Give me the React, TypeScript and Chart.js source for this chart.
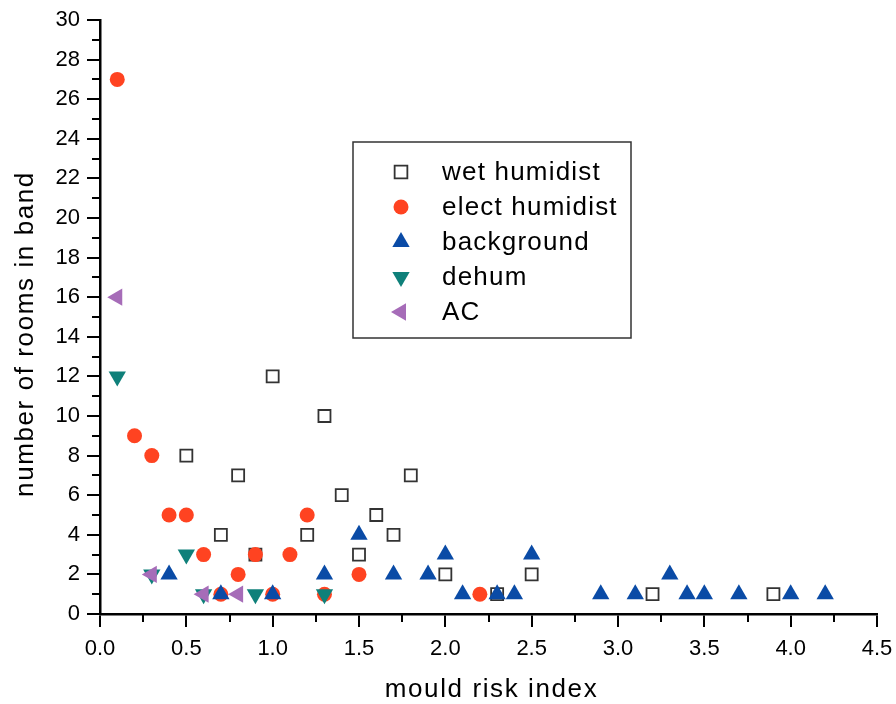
import React, { useEffect, useRef } from 'react';
import { Chart, registerables } from 'chart.js';
import { drawPoint } from 'chart.js/helpers';

Chart.register(...registerables);

// ---- data ----
const wetX = [0.5, 0.7, 0.8, 0.9, 1.0, 1.2, 1.3, 1.4, 1.5, 1.6, 1.7, 1.8, 2.0, 2.3, 2.5, 3.2, 3.9];
const wetY = [8, 4, 7, 3, 12, 4, 10, 6, 3, 5, 4, 7, 2, 1, 2, 1, 1];
const electX = [0.1, 0.2, 0.3, 0.4, 0.5, 0.6, 0.7, 0.8, 0.9, 1.0, 1.1, 1.2, 1.3, 1.5, 2.2];
const electY = [27, 9, 8, 5, 5, 3, 1, 2, 3, 1, 3, 5, 1, 2, 1];
const bgX = [0.4, 0.7, 1.0, 1.3, 1.5, 1.7, 1.9, 2.0, 2.1, 2.3, 2.4, 2.5, 2.9, 3.1, 3.3, 3.4, 3.5, 3.7, 4.0, 4.2];
const bgY = [2, 1, 1, 2, 4, 2, 2, 3, 1, 1, 1, 3, 1, 1, 2, 1, 1, 1, 1, 1];
const dehumX = [0.1, 0.3, 0.5, 0.6, 0.9, 1.3];
const dehumY = [12, 2, 3, 1, 1, 1];
const acX = [0.1, 0.3, 0.6, 0.8];
const acY = [16, 2, 1, 1];

const seriesNames = ['wet humidist', 'elect humidist', 'background', 'dehum', 'AC'];
const xTitle = 'mould risk index';
const yTitle = 'number of rooms in band';

const FONT = "'Liberation Sans', Arial, sans-serif";

const toPts = (xs: number[], ys: number[]) => xs.map((x, i) => ({ x, y: ys[i] }));

const minorTicks = {
  id: 'minorTicks',
  afterDraw(chart: any) {
    const ctx = chart.ctx;
    const xs = chart.scales.x;
    const ys = chart.scales.y;
    const area = chart.chartArea;
    ctx.save();
    ctx.strokeStyle = '#000';
    ctx.lineWidth = 2;
    ctx.beginPath();
    for (let v = 0.25; v < xs.max; v += 0.5) {
      const px = Math.round(xs.getPixelForValue(v));
      ctx.moveTo(px, area.bottom);
      ctx.lineTo(px, area.bottom + 8);
    }
    for (let v = 1; v < ys.max; v += 2) {
      const py = Math.round(ys.getPixelForValue(v));
      ctx.moveTo(area.left, py);
      ctx.lineTo(area.left - 8, py);
    }
    ctx.stroke();
    ctx.restore();
  },
};

const axisTitles = {
  id: 'axisTitles',
  afterDraw(chart: any) {
    const ctx = chart.ctx;
    const area = chart.chartArea;
    ctx.save();
    ctx.fillStyle = '#000';
    ctx.font = `26px ${FONT}`;
    (ctx as any).letterSpacing = '1.6px';
    ctx.textAlign = 'center';
    ctx.textBaseline = 'alphabetic';
    ctx.fillText(xTitle, (area.left + area.right) / 2 + 3, 697);
    ctx.translate(33, (area.top + area.bottom) / 2 + 17);
    ctx.rotate(-Math.PI / 2);
    ctx.fillText(yTitle, 0, 0);
    ctx.restore();
  },
};

const boxLegend = {
  id: 'boxLegend',
  afterDraw(chart: any) {
    const ctx = chart.ctx;
    const left = 353, top = 142, w = 278, h = 196;
    ctx.save();
    ctx.fillStyle = '#fff';
    ctx.fillRect(left, top, w, h);
    ctx.strokeStyle = '#333';
    ctx.lineWidth = 1.5;
    ctx.strokeRect(left, top, w, h);
    chart.data.datasets.forEach((ds: any, i: number) => {
      const base = top + 38 + i * 35;
      const cy = base - 8;
      const cx = left + 48;
      ctx.fillStyle = ds.backgroundColor;
      ctx.strokeStyle = ds.borderColor;
      ctx.lineWidth = ds.borderWidth;
      drawPoint(ctx, {
        pointStyle: ds.pointStyle,
        rotation: ds.rotation || 0,
        radius: ds.legendRadius,
        borderWidth: ds.borderWidth,
      } as any, cx, cy);
      ctx.fillStyle = '#000';
      ctx.font = `26px ${FONT}`;
      (ctx as any).letterSpacing = '1.2px';
      ctx.textBaseline = 'alphabetic';
      ctx.textAlign = 'left';
      ctx.fillText(ds.label, left + 89, base);
      (ctx as any).letterSpacing = '0px';
    });
    ctx.restore();
  },
};

export default function App() {
  const ref = useRef<HTMLCanvasElement>(null);
  useEffect(() => {
    if (!ref.current) return;
    const chart = new Chart(ref.current, {
      type: 'scatter',
      data: {
        datasets: [
          {
            label: seriesNames[0],
            data: toPts(wetX, wetY),
            pointStyle: 'rect',
            pointRadius: 8.5,
            backgroundColor: '#fff',
            borderColor: '#333',
            borderWidth: 1.8,
            order: 5,
            legendRadius: 9,
          } as any,
          {
            label: seriesNames[1],
            data: toPts(electX, electY),
            pointStyle: 'circle',
            pointRadius: 7.5,
            backgroundColor: '#FF4321',
            borderColor: '#FF4321',
            borderWidth: 0,
            order: 4,
            legendRadius: 7.5,
          } as any,
          {
            label: seriesNames[2],
            data: toPts(bgX, bgY),
            pointStyle: 'triangle',
            pointRadius: 10,
            backgroundColor: '#0A4BA6',
            borderColor: '#0A4BA6',
            borderWidth: 0,
            order: 3,
            legendRadius: 10,
          } as any,
          {
            label: seriesNames[3],
            data: toPts(dehumX, dehumY),
            pointStyle: 'triangle',
            rotation: 180,
            pointRotation: 180,
            pointRadius: 10,
            backgroundColor: '#0F807A',
            borderColor: '#0F807A',
            borderWidth: 0,
            order: 2,
            legendRadius: 10,
          } as any,
          {
            label: seriesNames[4],
            data: toPts(acX, acY),
            pointStyle: 'triangle',
            rotation: 270,
            pointRotation: 270,
            pointRadius: 10,
            backgroundColor: '#A66CB8',
            borderColor: '#A66CB8',
            borderWidth: 0,
            order: 1,
            legendRadius: 10,
          } as any,
        ],
      },
      options: {
        animation: false,
        responsive: false,
        layout: { padding: { left: 0, top: 20, right: 19, bottom: 0 } },
        clip: false as any,
        plugins: {
          legend: { display: false },
          tooltip: { enabled: false },
        },
        scales: {
          x: {
            type: 'linear',
            min: 0,
            max: 4.5,
            ticks: {
              stepSize: 0.5,
              color: '#000',
              font: { family: FONT, size: 22 },
              padding: 9,
              callback: (v: any) => Number(v).toFixed(1),
            },
            grid: {
              display: true,
              drawOnChartArea: false,
              drawTicks: true,
              tickLength: 13,
              lineWidth: 2,
              color: '#000',
            },
            border: { display: true, width: 2.5, color: '#000' },
            title: { display: false },
            afterFit: (s: any) => {
              s.height = 90;
              s.paddingRight = 0;
              s.paddingLeft = 0;
            },
          },
          y: {
            type: 'linear',
            min: 0,
            max: 30,
            ticks: {
              stepSize: 2,
              color: '#000',
              font: { family: FONT, size: 22 },
              padding: 7,
            },
            grid: {
              display: true,
              drawOnChartArea: false,
              drawTicks: true,
              tickLength: 13,
              lineWidth: 2,
              color: '#000',
            },
            border: { display: true, width: 2.5, color: '#000' },
            title: { display: false },
            afterFit: (s: any) => {
              s.width = 100;
              s.paddingTop = 0;
              s.paddingBottom = 0;
            },
          },
        },
      },
      plugins: [minorTicks, axisTitles, boxLegend],
    } as any);
    return () => chart.destroy();
  }, []);
  return (
    <div style={{ position: 'fixed', left: 0, top: 0, width: 896, height: 704, background: '#fff' }}>
      <canvas ref={ref} width={896} height={704} style={{ display: 'block' }} />
    </div>
  );
}
